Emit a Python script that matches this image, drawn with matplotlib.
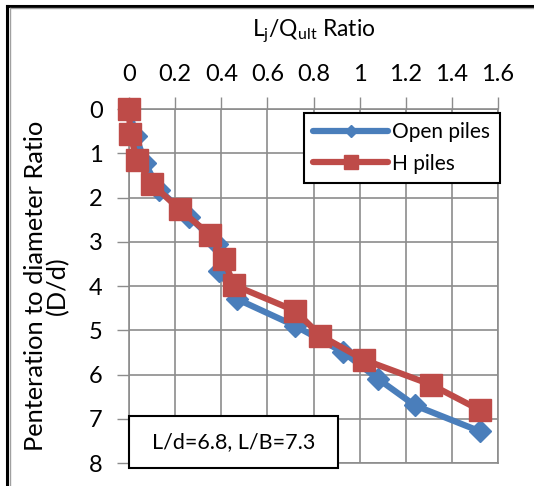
import matplotlib
matplotlib.use("Agg")
import matplotlib.pyplot as plt
from matplotlib.patches import Rectangle
from matplotlib.lines import Line2D

plt.rcParams['font.family'] = ['Lato', 'DejaVu Sans']

# Data
open_x = [0.0, 0.03, 0.07, 0.13, 0.26, 0.38, 0.39, 0.47, 0.72, 0.93, 1.08, 1.24, 1.52]
open_y = [0.0, 0.61, 1.22, 1.83, 2.43, 3.04, 3.65, 4.3, 4.9, 5.5, 6.1, 6.7, 7.28]
h_x = [0.0, 0.005, 0.035, 0.10, 0.22, 0.35, 0.41, 0.455, 0.72, 0.83, 1.02, 1.31, 1.52]
h_y = [0.0, 0.57, 1.16, 1.7, 2.27, 2.84, 3.39, 3.98, 4.56, 5.12, 5.67, 6.23, 6.8]
x_ticks = [0, 0.2, 0.4, 0.6, 0.8, 1.0, 1.2, 1.4, 1.6]
x_ticklabels = ["0", "0.2", "0.4", "0.6", "0.8", "1", "1.2", "1.4", "1.6"]
y_ticks = [0, 1, 2, 3, 4, 5, 6, 7, 8]

W, H = 534, 486
fig = plt.figure(figsize=(W / 100, H / 100), dpi=100)
ax = fig.add_axes([129 / W, 1 - 463 / H, (498 - 129) / W, (463 - 109) / H])

blue = '#4a7ebb'
red = '#be4b48'

ax.plot(open_x, open_y, color=blue, lw=4.5, marker='D', markersize=11,
        markeredgecolor=blue, label='Open piles', zorder=3, solid_capstyle='round',
        clip_on=False)
ax.plot(h_x, h_y, color=red, lw=4.5, marker='s', markersize=16,
        markeredgecolor=red, label='H piles', zorder=4, solid_capstyle='round',
        clip_on=False)

ax.set_xlim(0, 1.6)
ax.set_ylim(8, 0)
ax.xaxis.tick_top()
ax.xaxis.set_label_position('top')
ax.set_xticks(x_ticks)
ax.set_xticklabels(x_ticklabels)
ax.set_yticks(y_ticks)
ax.tick_params(axis='both', which='both', direction='out', length=9, color='#8c8c8c',
               width=1, labelsize=17)
ax.tick_params(axis='x', pad=8)
ax.tick_params(axis='y', pad=10)
ax.grid(True, color='#8c8c8c', lw=1.2)
for s in ax.spines.values():
    s.set_color('#8c8c8c')
    s.set_linewidth(1.2)

ax.set_xlabel(r'L$_\mathregular{j}$/Q$_\mathregular{ult}$ Ratio', fontsize=16.5, labelpad=20)
ax.set_ylabel('Penteration to diameter Ratio\n(D/d)', fontsize=18.3, labelpad=14,
              linespacing=0.95)

# Legend
leg = ax.legend(loc='upper right', bbox_to_anchor=(1.005, 0.989), borderaxespad=0,
                fontsize=15, frameon=True, fancybox=False, edgecolor='black',
                framealpha=1, handlelength=3.6, borderpad=0.45, labelspacing=0.55,
                handletextpad=0.2, markerscale=0.6)
leg.get_frame().set_linewidth(1.5)

# Annotation box
box = Rectangle((129 / W, 1 - 468 / H), (338 - 129) / W, (468 - 416) / H,
                transform=fig.transFigure, facecolor='white', edgecolor='black',
                lw=1.5, zorder=10)
fig.add_artist(box)
fig.text((129 + 338) / 2 / W, 1 - 442 / H, 'L/d=6.8, L/B=7.3', fontsize=15.5,
         ha='center', va='center', zorder=11)

# Outer frame
fig.add_artist(Line2D([7 / W, 7 / W], [0, 1 - 6 / H], transform=fig.transFigure,
                      color='black', lw=2.2))
fig.add_artist(Line2D([7 / W, 1], [1 - 6 / H, 1 - 6 / H], transform=fig.transFigure,
                      color='black', lw=2.2))
fig.add_artist(Line2D([9.5 / W, 9.5 / W], [0, 1 - 8.5 / H], transform=fig.transFigure,
                      color='#a0a0a0', lw=1))
fig.add_artist(Line2D([9.5 / W, 1], [1 - 8.5 / H, 1 - 8.5 / H], transform=fig.transFigure,
                      color='#a0a0a0', lw=1))

fig.savefig('out.png', dpi=100)
